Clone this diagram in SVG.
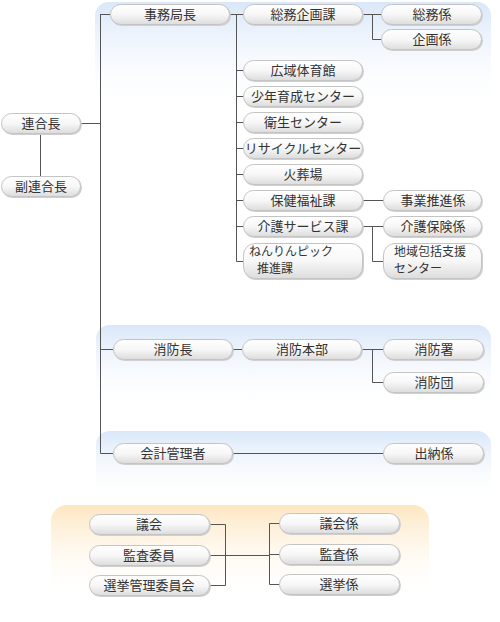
<svg xmlns="http://www.w3.org/2000/svg" width="500" height="622" viewBox="0 0 500 622">
<defs>
<linearGradient id="gBlue" x1="0" y1="0" x2="0" y2="1">
<stop offset="0" stop-color="#d9e7f9"/>
<stop offset="1" stop-color="#ffffff" stop-opacity="0"/>
</linearGradient>
<linearGradient id="gOrange" x1="0" y1="0" x2="0" y2="1">
<stop offset="0" stop-color="#fde6c0"/>
<stop offset="1" stop-color="#ffffff" stop-opacity="0"/>
</linearGradient>
<linearGradient id="gPill" x1="0" y1="0" x2="0" y2="1">
<stop offset="0" stop-color="#ffffff"/>
<stop offset="0.5" stop-color="#f7f7f7"/>
<stop offset="1" stop-color="#dcdcdc"/>
</linearGradient>
</defs>
<style>
.pill{fill:url(#gPill);stroke:#c4c4c4;stroke-width:1}
.sh{fill:#cfcfcf}
text{font-family:"Noto Sans CJK JP","Noto Sans CJK SC",sans-serif;font-size:13px;fill:#333}
.c{text-anchor:middle}
.s{font-size:12px}
.ln{stroke:#555;stroke-width:1;fill:none}
</style>
<rect x="0" y="0" width="500" height="622" fill="#fff"/>
<g id="panels">
<rect x="95" y="2" width="396" height="110" rx="14" fill="url(#gBlue)"/>
<rect x="96" y="325" width="395" height="85" rx="14" fill="url(#gBlue)"/>
<rect x="96" y="431" width="395" height="70" rx="14" fill="url(#gBlue)"/>
<rect x="51" y="505" width="378" height="95" rx="16" fill="url(#gOrange)"/>
</g>
<g id="connectors" class="ln">
<path d="M40.5 134V176"/>
<path d="M81 123.5H100.5M100.5 14V453.5M100.5 14.5H110M100.5 349.5H113M100.5 453.5H113"/>
<path d="M229 14.5H236.5M236.5 14V261.5M236.5 14.5H244M236.5 70.5H244M236.5 96.5H244M236.5 122.5H244M236.5 148.5H244M236.5 174.5H244M236.5 200.5H244M236.5 226.5H244M236.5 261.5H244"/>
<path d="M362 14.5H382M372.5 14.5V39.5H382"/>
<path d="M362 200.5H384"/>
<path d="M362 226.5H384M372.5 226.5V261.5H384"/>
<path d="M233 349.5H242"/>
<path d="M362 349.5H384M372.5 349.5V382.5H384"/>
<path d="M233 453.5H384"/>
<path d="M210 524.5H225.5V585.5H210M210 555.5H269.5M269.5 523.5V584.5M269.5 523.5H280M269.5 554.5H280M269.5 584.5H280"/>
</g>
<g id="n-rengocho"><rect class="sh" x="2" y="114" width="80" height="21" rx="10.5"/><rect class="pill" x="1.5" y="113.5" width="79" height="20" rx="10"/><text class="c" x="41" y="128">連合長</text></g>
<g id="n-fukurengocho"><rect class="sh" x="2" y="177" width="80" height="21" rx="10.5"/><rect class="pill" x="1.5" y="176.5" width="79" height="20" rx="10"/><text class="c" x="41" y="191">副連合長</text></g>
<g id="n-jimukyokucho"><rect class="sh" x="111" y="5" width="120" height="21" rx="10.5"/><rect class="pill" x="110.5" y="4.5" width="119" height="20" rx="10"/><text class="c" x="170" y="19">事務局長</text></g>
<g id="n-somukikaku"><rect class="sh" x="244" y="5" width="120" height="21" rx="10.5"/><rect class="pill" x="243.5" y="4.5" width="119" height="20" rx="10"/><text class="c" x="303" y="19">総務企画課</text></g>
<g id="n-somukakari"><rect class="sh" x="382" y="5" width="101" height="21" rx="10.5"/><rect class="pill" x="381.5" y="4.5" width="100" height="20" rx="10"/><text class="c" x="432" y="19">総務係</text></g>
<g id="n-kikakukakari"><rect class="sh" x="382" y="30" width="101" height="21" rx="10.5"/><rect class="pill" x="381.5" y="29.5" width="100" height="20" rx="10"/><text class="c" x="432" y="44">企画係</text></g>
<g id="n-taiikukan"><rect class="sh" x="244" y="61" width="120" height="21" rx="10.5"/><rect class="pill" x="243.5" y="60.5" width="119" height="20" rx="10"/><text class="c" x="303" y="75">広域体育館</text></g>
<g id="n-shonen"><rect class="sh" x="244" y="87" width="120" height="21" rx="10.5"/><rect class="pill" x="243.5" y="86.5" width="119" height="20" rx="10"/><text class="c" x="303" y="101">少年育成センター</text></g>
<g id="n-eisei"><rect class="sh" x="244" y="113" width="120" height="21" rx="10.5"/><rect class="pill" x="243.5" y="112.5" width="119" height="20" rx="10"/><text class="c" x="303" y="127">衛生センター</text></g>
<g id="n-recycle"><rect class="sh" x="244" y="139" width="120" height="21" rx="10.5"/><rect class="pill" x="243.5" y="138.5" width="119" height="20" rx="10"/><text class="c" x="303" y="153">リサイクルセンター</text></g>
<g id="n-kasoba"><rect class="sh" x="244" y="165" width="120" height="21" rx="10.5"/><rect class="pill" x="243.5" y="164.5" width="119" height="20" rx="10"/><text class="c" x="303" y="179">火葬場</text></g>
<g id="n-hoken"><rect class="sh" x="244" y="191" width="120" height="21" rx="10.5"/><rect class="pill" x="243.5" y="190.5" width="119" height="20" rx="10"/><text class="c" x="303" y="205">保健福祉課</text></g>
<g id="n-jigyo"><rect class="sh" x="384" y="191" width="99" height="21" rx="10.5"/><rect class="pill" x="383.5" y="190.5" width="98" height="20" rx="10"/><text class="c" x="433" y="205">事業推進係</text></g>
<g id="n-kaigo"><rect class="sh" x="244" y="217" width="120" height="21" rx="10.5"/><rect class="pill" x="243.5" y="216.5" width="119" height="20" rx="10"/><text class="c" x="303" y="231">介護サービス課</text></g>
<g id="n-kaigohoken"><rect class="sh" x="384" y="217" width="99" height="21" rx="10.5"/><rect class="pill" x="383.5" y="216.5" width="98" height="20" rx="10"/><text class="c" x="433" y="231">介護保険係</text></g>
<g id="n-nenrin"><rect class="sh" x="244" y="244" width="120" height="36" rx="12"/><rect class="pill" x="243.5" y="243.5" width="119" height="35" rx="11.5"/><text class="s" x="249" y="256">ねんりんピック</text><text class="s" x="257" y="273">推進課</text></g>
<g id="n-chiiki"><rect class="sh" x="384" y="244" width="99" height="36" rx="12"/><rect class="pill" x="383.5" y="243.5" width="98" height="35" rx="11.5"/><text class="s" x="394" y="256">地域包括支援</text><text class="s" x="394" y="273">センター</text></g>
<g id="n-shobocho"><rect class="sh" x="114" y="340" width="120" height="21" rx="10.5"/><rect class="pill" x="113.5" y="339.5" width="119" height="20" rx="10"/><text class="c" x="173" y="354">消防長</text></g>
<g id="n-shobohonbu"><rect class="sh" x="243" y="340" width="120" height="21" rx="10.5"/><rect class="pill" x="242.5" y="339.5" width="119" height="20" rx="10"/><text class="c" x="302" y="354">消防本部</text></g>
<g id="n-shobosho"><rect class="sh" x="384" y="340" width="101" height="21" rx="10.5"/><rect class="pill" x="383.5" y="339.5" width="100" height="20" rx="10"/><text class="c" x="434" y="354">消防署</text></g>
<g id="n-shobodan"><rect class="sh" x="384" y="373" width="101" height="21" rx="10.5"/><rect class="pill" x="383.5" y="372.5" width="100" height="20" rx="10"/><text class="c" x="434" y="387">消防団</text></g>
<g id="n-kaikei"><rect class="sh" x="114" y="444" width="120" height="21" rx="10.5"/><rect class="pill" x="113.5" y="443.5" width="119" height="20" rx="10"/><text class="c" x="173" y="458">会計管理者</text></g>
<g id="n-suito"><rect class="sh" x="384" y="444" width="101" height="21" rx="10.5"/><rect class="pill" x="383.5" y="443.5" width="100" height="20" rx="10"/><text class="c" x="434" y="458">出納係</text></g>
<g id="n-gikai"><rect class="sh" x="90" y="515" width="121" height="21" rx="10.5"/><rect class="pill" x="89.5" y="514.5" width="120" height="20" rx="10"/><text class="c" x="149" y="529">議会</text></g>
<g id="n-kansa"><rect class="sh" x="90" y="546" width="121" height="21" rx="10.5"/><rect class="pill" x="89.5" y="545.5" width="120" height="20" rx="10"/><text class="c" x="149" y="560">監査委員</text></g>
<g id="n-senkyo"><rect class="sh" x="90" y="576" width="121" height="21" rx="10.5"/><rect class="pill" x="89.5" y="575.5" width="120" height="20" rx="10"/><text class="c" x="149" y="590">選挙管理委員会</text></g>
<g id="n-gikaikakari"><rect class="sh" x="280" y="514" width="121" height="21" rx="10.5"/><rect class="pill" x="279.5" y="513.5" width="120" height="20" rx="10"/><text class="c" x="339" y="528">議会係</text></g>
<g id="n-kansakakari"><rect class="sh" x="280" y="545" width="121" height="21" rx="10.5"/><rect class="pill" x="279.5" y="544.5" width="120" height="20" rx="10"/><text class="c" x="339" y="559">監査係</text></g>
<g id="n-senkyokakari"><rect class="sh" x="280" y="575" width="121" height="21" rx="10.5"/><rect class="pill" x="279.5" y="574.5" width="120" height="20" rx="10"/><text class="c" x="339" y="589">選挙係</text></g>
</svg>
